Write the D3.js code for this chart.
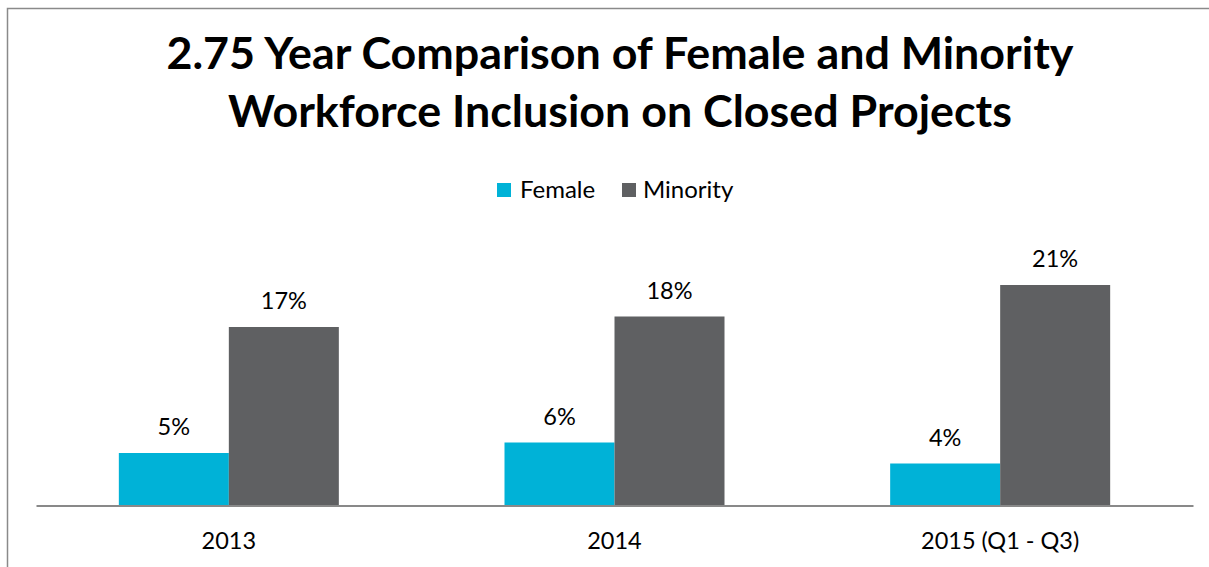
<!DOCTYPE html>
<html>
<head>
<meta charset="utf-8">
<script src="https://cdn.jsdelivr.net/npm/d3@7/dist/d3.min.js"></script>
<style>
  html, body { margin: 0; padding: 0; background: #fff; }
  svg { display: block; font-family: Lato, "Open Sans", sans-serif; }
</style>
</head>
<body>
<svg id="chart" width="1209" height="567"></svg>
<script>
// Chart data
const categories = ["2013", "2014", "2015 (Q1 - Q3)"];
const seriesNames = ["Female", "Minority"];
const femaleValues = [0.05, 0.06, 0.04];
const minorityValues = [0.17, 0.18, 0.21];
const titleLines = [
  "2.75 Year Comparison of Female and Minority",
  "Workforce Inclusion on Closed Projects"
];

const colors = { Female: "#00B2D7", Minority: "#5F6062" };
const valuesBySeries = { Female: femaleValues, Minority: minorityValues };

const svg = d3.select("#chart");

// Background and chart frame
svg.append("rect").attr("width", 1209).attr("height", 567).attr("fill", "#fff");
svg.append("rect")
  .attr("x", 7.5).attr("y", 8.5)
  .attr("width", 1400).attr("height", 800)
  .attr("fill", "none")
  .attr("stroke", "#8a8a8a")
  .attr("stroke-width", 1.5);

// Title
svg.append("text")
  .attr("text-anchor", "middle")
  .attr("font-weight", "bold")
  .attr("font-size", 44.8)
  .attr("fill", "#000")
  .selectAll("tspan")
  .data(titleLines)
  .join("tspan")
  .attr("x", 620)
  .attr("y", (d, i) => 69 + i * 58)
  .text(d => d);

// Scales
const x = d3.scaleBand()
  .domain(categories)
  .range([36, 1193])
  .paddingInner(0)
  .paddingOuter(0);

const xInner = d3.scaleBand()
  .domain(seriesNames)
  .range([0, x.bandwidth()])
  .paddingInner(0)
  .paddingOuter(0.753);

const y = d3.scaleLinear()
  .domain([0, 0.25])
  .range([505.5, 243]);

const fmt = d3.format(".0%");

// Bars and value labels
const rows = categories.map((c, i) => ({
  category: c,
  items: seriesNames.map(s => ({ series: s, value: valuesBySeries[s][i] }))
}));

const groups = svg.append("g")
  .selectAll("g")
  .data(rows)
  .join("g")
  .attr("transform", d => `translate(${x(d.category)},0)`);

groups.selectAll("rect")
  .data(d => d.items)
  .join("rect")
  .attr("x", d => xInner(d.series))
  .attr("y", d => y(d.value))
  .attr("width", xInner.bandwidth())
  .attr("height", d => y(0) - y(d.value))
  .attr("fill", d => colors[d.series]);

groups.selectAll("text")
  .data(d => d.items)
  .join("text")
  .attr("x", d => xInner(d.series) + xInner.bandwidth() / 2)
  .attr("y", d => y(d.value) - 18)
  .attr("text-anchor", "middle")
  .attr("font-size", 23.5)
  .attr("fill", "#000")
  .text(d => fmt(d.value));

// Category axis
const axis = svg.append("g")
  .attr("transform", `translate(0,${y(0)})`)
  .call(d3.axisBottom(x).tickSize(0).tickSizeOuter(0).tickPadding(27));
axis.select(".domain").attr("stroke", "#898989").attr("stroke-width", 2);
axis.selectAll(".tick text")
  .attr("font-family", "Lato, 'Open Sans', sans-serif")
  .attr("font-size", 23.5)
  .attr("fill", "#000");

// Legend
const legendItems = [
  { name: "Female", sx: 497, tx: 520 },
  { name: "Minority", sx: 622, tx: 643 }
];
const legend = svg.append("g");
legend.selectAll("rect")
  .data(legendItems)
  .join("rect")
  .attr("x", d => d.sx).attr("y", 183)
  .attr("width", 14).attr("height", 14)
  .attr("fill", d => colors[d.name]);
legend.selectAll("text")
  .data(legendItems)
  .join("text")
  .attr("x", d => d.tx).attr("y", 197.5)
  .attr("font-size", 24)
  .attr("fill", "#000")
  .text(d => d.name);
</script>
</body>
</html>
